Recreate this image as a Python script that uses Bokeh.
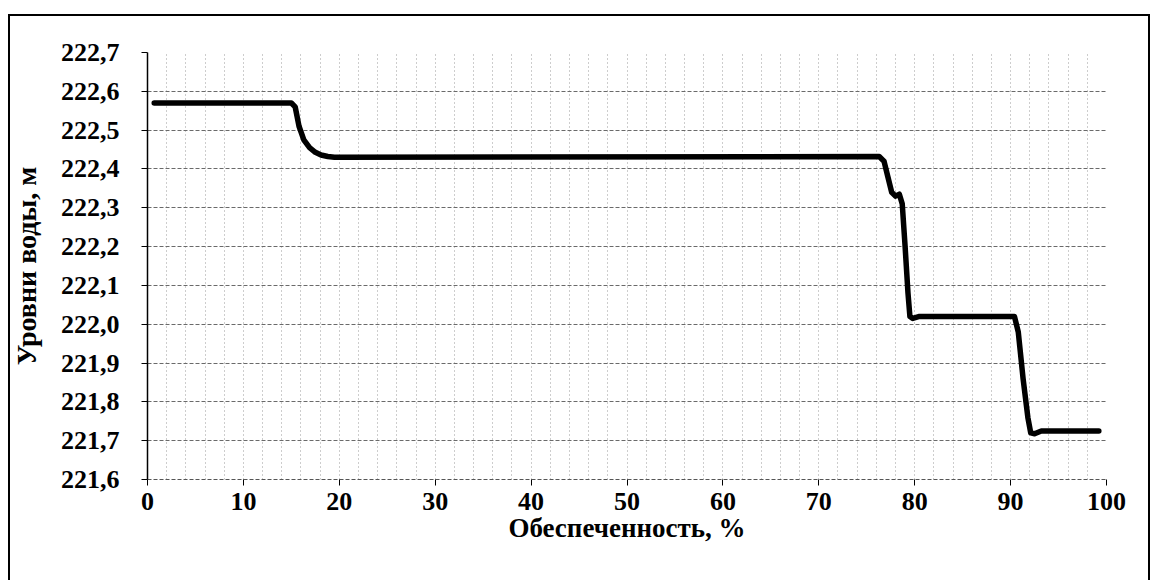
from bokeh.plotting import figure
from bokeh.models import ColumnDataSource, Range1d, FixedTicker, CustomJSTickFormatter
from bokeh.embed import file_html
from bokeh.resources import INLINE

# Data
provision_pct = [0.7, 15.0, 15.4, 15.8, 16.3, 16.9, 17.5, 18.1, 18.8, 19.5,
                 76.3, 76.8, 77.2, 77.6, 78.0, 78.4, 78.7, 79.0, 79.3, 79.5, 79.8, 80.5,
                 90.4, 90.8, 91.3, 91.8, 92.1, 92.5, 93.2, 99.2]
water_level = [222.57, 222.57, 222.56, 222.51, 222.475, 222.455, 222.443, 222.436, 222.432, 222.43,
               222.432, 222.42, 222.38, 222.34, 222.33, 222.335, 222.31, 222.20, 222.08, 222.02, 222.015, 222.02,
               222.02, 221.98, 221.86, 221.76, 221.72, 221.718, 221.725, 221.725]

x_ticks = [0, 10, 20, 30, 40, 50, 60, 70, 80, 90, 100]
x_minor_grid = list(range(0, 101, 2))
y_ticks = [221.6, 221.7, 221.8, 221.9, 222.0, 222.1, 222.2, 222.3, 222.4, 222.5, 222.6, 222.7]

FONT = "Liberation Serif"

W, H = 1157, 580
p = figure(width=W, height=H, output_backend="svg", toolbar_location=None,
           x_range=Range1d(0, 100), y_range=Range1d(221.6, 222.7),
           min_border_left=147, min_border_right=W - 1106, min_border_top=52, min_border_bottom=H - 479)
p.outline_line_color = None
p.background_fill_color = "white"
p.border_fill_color = None

# outer frame (left, top, right edges) drawn by layered inset shadows on the host element
p.styles = {
    "background-color": "white",
    "box-shadow": ("inset 8px 0 0 0 white, inset 0 14px 0 0 white, inset -7px 0 0 0 white, "
                   "inset 10px 0 0 0 black, inset 0 16px 0 0 black, inset -9px 0 0 0 black"),
}

src = ColumnDataSource(dict(x=provision_pct, y=water_level))
p.line("x", "y", source=src, line_color="black", line_width=5.5, line_join="round", line_cap="round")

# grids
p.xgrid.ticker = FixedTicker(ticks=x_minor_grid)
p.xgrid.grid_line_color = "#9a9a9a"
p.xgrid.grid_line_dash = "1 3"
p.xgrid.grid_line_width = 1
p.ygrid.ticker = FixedTicker(ticks=y_ticks)
p.ygrid.grid_line_color = "#6a6a6a"
p.ygrid.grid_line_dash = "4 2"
p.ygrid.grid_line_width = 1

# axes
p.xaxis.ticker = FixedTicker(ticks=x_ticks)
p.yaxis.ticker = FixedTicker(ticks=y_ticks)
p.yaxis.formatter = CustomJSTickFormatter(code="return tick.toFixed(1).replace('.', ',');")
p.xaxis.formatter = CustomJSTickFormatter(code="return tick.toFixed(0);")
for ax in (p.xaxis[0], p.yaxis[0]):
    ax.major_label_text_font = FONT
    ax.major_label_text_font_style = "bold"
    ax.major_label_text_font_size = "26px"
    ax.major_label_text_color = "black"
    ax.axis_label_text_font = FONT
    ax.axis_label_text_font_style = "bold"
    ax.axis_label_text_color = "black"
    ax.minor_tick_line_color = None
    ax.major_tick_out = 6
    ax.major_tick_in = 0
    ax.major_tick_line_color = "black"

p.xaxis.axis_label_text_font_size = "27px"
p.yaxis.axis_label_text_font_size = "28px"
p.xaxis.axis_line_color = "#555555"
p.xaxis.axis_line_dash = "4 2"
p.yaxis.axis_line_color = "black"
p.yaxis.axis_line_width = 1.5
p.xaxis.major_label_standoff = 7
p.yaxis.major_label_standoff = 22
p.xaxis.axis_label = "Обеспеченность, %"
p.yaxis.axis_label = "Уровни воды, м"
p.xaxis.axis_label_standoff = 0
p.yaxis.axis_label_standoff = 16

open("out.html", "w").write(file_html(p, INLINE))
